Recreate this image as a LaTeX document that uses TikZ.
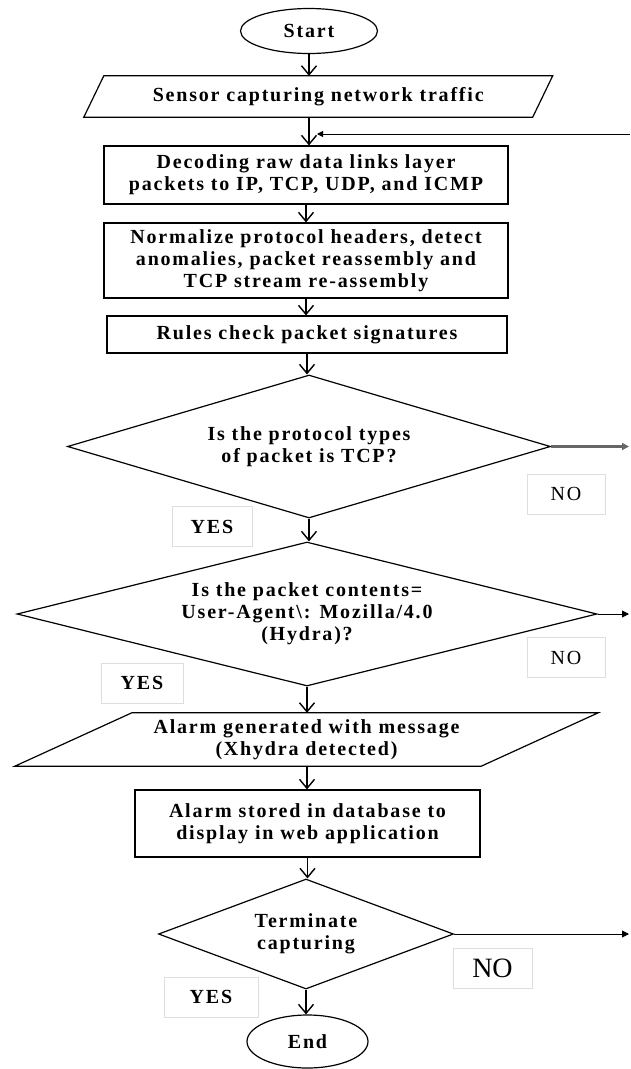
\documentclass[tikz,border=0pt]{standalone}
\usepackage{fontspec}
\setmainfont{Liberation Serif}
\newfontfamily\spacedfont{Liberation Serif}[LetterSpace=9]
\usetikzlibrary{shapes.geometric,arrows.meta}

\begin{document}
\begin{tikzpicture}[x=1pt,y=-1pt,
	every node/.style={font=\spacedfont\bfseries\fontsize{20}{22}\selectfont, align=center, inner sep=0pt},
	flow/.style={draw, line width=1.2pt},
	terminal/.style={flow, ellipse},
	process/.style={flow, rectangle},
	decide/.style={flow, diamond, fill=white},
	yesno/.style={draw=black!13, line width=0.8pt, minimum height=40},
	nolbl/.style={yesno, font=\spacedfont\fontsize{20}{22}\selectfont},
	arr/.style={line width=1.4pt, -{Straight Barb[length=9pt,width=15pt]}},
	exitarr/.style={line width=0.9pt, -{Triangle[length=7pt,width=7pt]}}]
%
	\useasboundingbox (0,0) rectangle (630,1069);
%
	\node[yesno, minimum width=80] (yes1) at (212,526.5) {YES};
	\node[nolbl, minimum width=78] (no1) at (566,494) {NO};
	\node[yesno, minimum width=82] (yes2) at (142,683) {YES};
	\node[nolbl, minimum width=78] (no2) at (566,657.5) {NO};
	\node[nolbl, minimum width=79, font=\fontsize{28}{30}\selectfont] (no3) at (492.5,968) {NO};
	\node[yesno, minimum width=94] (yes3) at (211,997) {YES};
%
	\node[terminal, minimum width=137, minimum height=45] (start) at (309,31) {Start};
	\node[minimum width=448.5, minimum height=41] (sensor) at (318.25,96.5) {Sensor capturing network traffic};
	\draw[flow] ([xshift=-10pt]sensor.south west) -- ([xshift=10pt]sensor.north west)
		-- ([xshift=10pt]sensor.north east) -- ([xshift=-10pt]sensor.south east) -- cycle;
	\node[process, minimum width=404, minimum height=58] (decode) at (306,175)
		{Decoding raw data links layer\\packets to IP, TCP, UDP, and ICMP};
	\node[process, minimum width=404, minimum height=75] (normal) at (306,260.5)
		{Normalize protocol headers, detect\\anomalies, packet reassembly and\\TCP stream re-assembly};
	\node[process, minimum width=400, minimum height=37] (rules) at (307,334.5) {Rules check packet signatures};
	\node[decide, shape aspect=3.38, minimum width=483, minimum height=143] (q1) at (309,446.5)
		{Is the protocol types\\of packet is TCP?};
	\node[decide, shape aspect=4.03, minimum width=580, minimum height=144] (q2) at (307,614)
		{Is the packet contents=\\User-Agent\textbackslash: Mozilla/4.0\\(Hydra)?};
	\node[minimum width=466, minimum height=53] (alarm) at (306.5,739.5)
		{Alarm generated with message\\(Xhydra detected)};
	\draw[flow] ([xshift=-58.5pt]alarm.south west) -- ([xshift=58.5pt]alarm.north west)
		-- ([xshift=58.5pt]alarm.north east) -- ([xshift=-58.5pt]alarm.south east) -- cycle;
	\node[process, minimum width=345, minimum height=67] (store) at (307.5,823.5)
		{Alarm stored in database to\\display in web application};
	\node[decide, shape aspect=2.68, minimum width=295, minimum height=110] (q3) at (306,934)
		{Terminate\\capturing};
	\node[terminal, minimum width=121, minimum height=53] (stop) at (307.5,1041.5) {End};
%
	\draw[arr] (start) -- (start |- sensor.north);
	\draw[arr] (start |- sensor.south) -- (start |- decode.north);
	\draw[arr] (decode) -- (normal);
	\draw[arr] (normal) -- (normal |- rules.north);
	\draw[arr] (rules) -- (rules |- q1.north);
	\draw[arr] (q1) -- (q1 |- q2.north);
	\draw[arr] (q2) -- (q2 |- alarm.north);
	\draw[arr] (q2 |- alarm.south) -- (q2 |- store.north);
	\draw[arr] (store) -- (store |- q3.north);
	\draw[arr] (q3) -- (q3 |- stop.north);
%
	\coordinate (exit1) at (629,446.5);
	\coordinate (exit2) at (629,614);
	\coordinate (exit3) at (629,934);
	\coordinate (loopin) at (630,134);
	\draw[exitarr, draw=black!60, line width=2.5pt] (q1.east) -- (exit1);
	\draw[exitarr] (q2.east) -- (exit2);
	\draw[exitarr] (q3.east) -- (exit3);
	\draw[exitarr, -{Triangle[length=6pt,width=6pt]}] (loopin) -- ([xshift=8pt]loopin -| start);
%
\end{tikzpicture}
\end{document}
